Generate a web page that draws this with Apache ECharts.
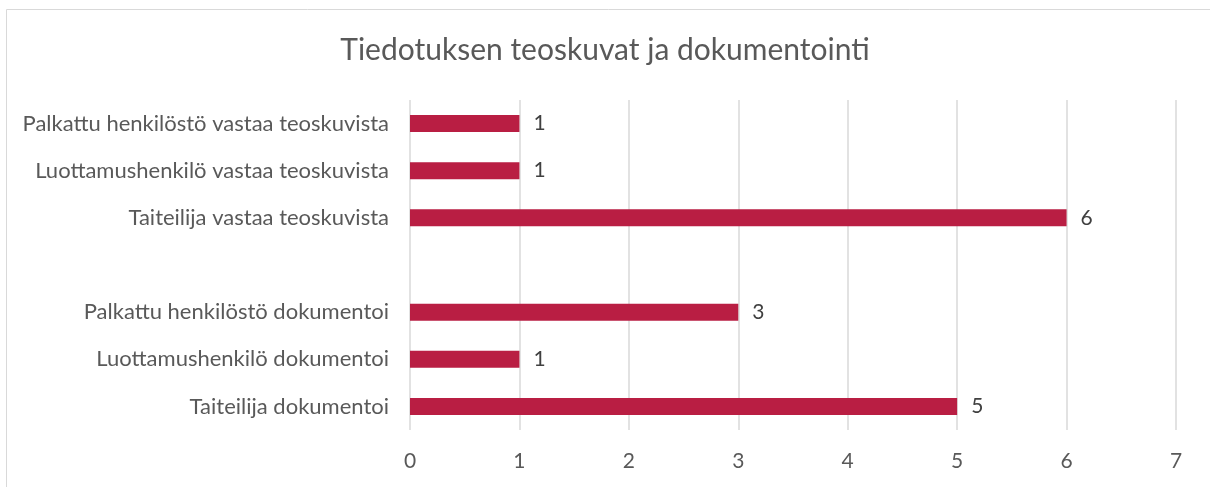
<!DOCTYPE html>
<html>
<head>
<meta charset="utf-8">
<script src="https://cdn.jsdelivr.net/npm/echarts@6/dist/echarts.min.js"></script>
<style>
html,body{margin:0;padding:0;background:#fff;}
#main{width:1210px;height:487px;}
</style>
</head>
<body>
<div id="main"></div>
<script>
// kategoriat ylhäältä alas
var categories = [
    'Palkattu henkilöstö vastaa teoskuvista',
    'Luottamushenkilö vastaa teoskuvista',
    'Taiteilija vastaa teoskuvista',
    '',
    'Palkattu henkilöstö dokumentoi',
    'Luottamushenkilö dokumentoi',
    'Taiteilija dokumentoi'
];
var values = [1, 1, 6, '-', 3, 1, 5];
var xTicks = [0, 1, 2, 3, 4, 5, 6, 7];

var myChart = echarts.init(document.getElementById('main'));
var font = 'Lato, "Open Sans", sans-serif';
var option = {
    animation: false,
    title: {
        text: 'Tiedotuksen teoskuvat ja dokumentointi',
        left: 'center',
        top: 30,
        textStyle: {color: '#595959', fontSize: 30, fontWeight: 'normal', fontFamily: font}
    },
    graphic: [{
        type: 'rect',
        shape: {x: 6.5, y: 9.5, width: 1220, height: 500},
        style: {fill: 'none', stroke: '#d9d9d9', lineWidth: 1}
    }],
    grid: {left: 410, right: 34, top: 100, bottom: 57},
    xAxis: {
        type: 'value',
        min: xTicks[0],
        max: xTicks[xTicks.length - 1],
        interval: 1,
        axisLine: {show: false},
        axisTick: {show: false},
        axisLabel: {color: '#595959', fontSize: 21, fontFamily: font, margin: 21},
        splitLine: {lineStyle: {color: '#d9d9d9', width: 1.5}}
    },
    yAxis: {
        type: 'category',
        inverse: true,
        data: categories,
        axisLine: {show: false},
        axisTick: {show: false},
        axisLabel: {color: '#595959', fontSize: 22, fontFamily: font, margin: 21}
    },
    series: [{
        type: 'bar',
        data: values,
        barWidth: '36%',
        itemStyle: {color: '#b91e43'},
        label: {
            show: true,
            position: 'right',
            distance: 14,
            color: '#404040',
            fontSize: 21,
            fontFamily: font
        }
    }]
};
myChart.setOption(option);
</script>
</body>
</html>
